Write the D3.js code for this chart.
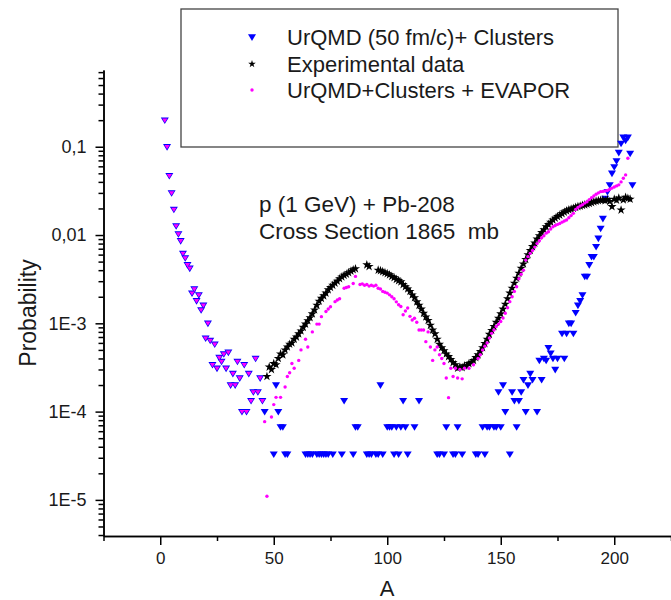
<!DOCTYPE html>
<html>
<head>
<meta charset="utf-8">
<script src="https://cdn.jsdelivr.net/npm/d3@7"></script>
<style>
  body { margin: 0; background: #fff; }
  svg { display: block; }
  text { font-family: Arial, "Liberation Sans", sans-serif; fill: #1a1a1a; }
</style>
</head>
<body>
<svg id="chart" width="671" height="600"></svg>
<script>
// UrQMD (50 fm/c) + Clusters  (blue triangles)
const urqmdA = [2,3,4,5,6,7,8,9,10,11,12,13,
  14,15,16,17,18,19,20,21,22,23,24,25,
  26,27,28,29,30,31,32,33,34,35,36,37,
  38,39,40,41,42,43,44,45,46,
  50,51,52,53,54,55,56,
  64,65,66,67,69,70,71,72,73,74,76,
  80,81,85,86,87,91,92,93,95,96,97,98,
  100,101,102,103,104,105,106,107,108,109,112,114,
  122,123,125,126,129,130,131,133,
  139,140,142,143,144,145,147,148,149,150,
  151,152,154,155,156,157,158,159,160,161,
  162,163,164,166,167,168,169,170,171,172,
  173,174,175,177,178,179,180,181,182,183,
  184,185,186,187,188,189,190,191,192,193,
  194,195,196,197,198,199,200,201,202,203,
  204,205,206,207,208];
const urqmdP = [0.2,0.1,0.047,0.030,0.0195,0.0127,0.0103,0.0086,0.0062,0.0055,0.0046,0.0042,
  0.0022,0.00245,0.0018,0.0021,0.00142,0.0016,0.00068,0.001,0.00064,0.00034,0.00058,0.00031,
  0.00041,0.00037,0.00045,0.00031,0.00047,0.0002,0.00027,0.0002,0.00037,0.00024,0.0001,0.00034,
  0.0001,0.00027,0.000133,0.000167,0.0004,0.000167,0.00024,0.000133,0.0001,
  3.3e-5,0.0002,0.0001,6.7e-5,6.7e-5,3.3e-5,3.3e-5,
  3.3e-5,3.3e-5,3.3e-5,3.3e-5,3.3e-5,3.3e-5,3.3e-5,3.3e-5,3.3e-5,3.3e-5,3.3e-5,
  3.3e-5,1.33e-4,3.3e-5,6.7e-5,6.7e-5,3.3e-5,3.3e-5,3.3e-5,3.3e-5,3.3e-5,2e-4,3.3e-5,
  6.7e-5,6.7e-5,6.7e-5,3.3e-5,6.7e-5,3.3e-5,6.7e-5,1.33e-4,6.7e-5,3.3e-5,6.7e-5,1.33e-4,
  3.3e-5,3.3e-5,3.3e-5,6.7e-5,3.3e-5,3.3e-5,6.7e-5,3.3e-5,
  3.3e-5,3.3e-5,6.7e-5,3.3e-5,6.7e-5,6.7e-5,6.7e-5,6.7e-5,1.67e-4,6.7e-5,
  2e-4,1e-4,3.3e-5,1.67e-4,1.33e-4,6.7e-5,1.33e-4,1.67e-4,2.3e-4,1e-4,
  2e-4,2.7e-4,2.3e-4,1e-4,3.8e-4,2.3e-4,4e-4,3.8e-4,5.3e-4,4.6e-4,
  4e-4,3e-4,4e-4,7.7e-4,4e-4,7.7e-4,1e-3,1e-3,7.7e-4,1.32e-3,
  1.6e-3,1.8e-3,2.1e-3,3.4e-3,3.4e-3,4.6e-3,5.7e-3,5.7e-3,7.4e-3,9.2e-3,
  0.0119,0.0154,0.026,0.031,0.037,0.05,0.059,0.069,0.086,0.109,
  0.128,0.118,0.128,0.084,0.037];

// Experimental data (black stars)
const expA = [47,48,49,50,51,52,53,54,55,56,57,58,59,60,61,62,63,64,65,66,
  67,68,69,70,71,72,73,74,75,76,77,78,79,80,81,82,83,84,85,86,
  91,92,96,97,98,99,100,101,102,103,104,105,106,107,108,109,110,
  111,112,113,114,115,116,117,118,119,120,121,122,123,124,125,126,127,128,129,130,
  131,132,133,134,135,136,137,138,139,140,141,142,143,144,145,146,147,148,149,150,
  151,152,153,154,155,156,157,158,159,160,161,162,163,164,165,166,167,168,169,170,
  171,172,173,174,175,176,177,178,179,180,181,182,183,184,185,186,187,188,189,190,
  191,192,193,194,195,196,197,198,199,200,201,202,203,204,205,206,207];
const expP = [2.5e-4,3.2e-4,3.0e-4,3.5e-4,3.4e-4,4.0e-4,4.5e-4,4.4e-4,5.0e-4,5.4e-4,
  5.8e-4,6.0e-4,6.6e-4,7.0e-4,7.6e-4,8.2e-4,9.0e-4,9.8e-4,1.07e-3,1.16e-3,
  1.28e-3,1.42e-3,1.6e-3,1.78e-3,1.92e-3,2.05e-3,2.2e-3,2.4e-3,2.55e-3,2.7e-3,
  2.85e-3,3.0e-3,3.2e-3,3.35e-3,3.5e-3,3.6e-3,3.75e-3,3.9e-3,4.05e-3,4.15e-3,
  4.6e-3,4.4e-3,4.0e-3,3.95e-3,3.85e-3,3.75e-3,3.65e-3,3.55e-3,3.4e-3,3.3e-3,
  3.15e-3,3.05e-3,2.95e-3,2.75e-3,2.6e-3,2.45e-3,2.3e-3,
  2.1e-3,1.95e-3,1.75e-3,1.6e-3,1.45e-3,1.3e-3,1.18e-3,1.08e-3,9.5e-4,8.4e-4,
  7.6e-4,6.6e-4,5.8e-4,5.3e-4,4.9e-4,4.5e-4,4.2e-4,3.9e-4,3.6e-4,3.4e-4,
  3.1e-4,3.2e-4,3.15e-4,3.3e-4,3.3e-4,3.5e-4,3.6e-4,3.8e-4,4.1e-4,4.4e-4,
  4.8e-4,5.3e-4,5.9e-4,6.6e-4,7.5e-4,8.3e-4,9.2e-4,1.03e-3,1.14e-3,1.28e-3,
  1.45e-3,1.65e-3,1.9e-3,2.2e-3,2.5e-3,2.85e-3,3.25e-3,3.7e-3,4.2e-3,4.7e-3,
  5.3e-3,6.0e-3,6.7e-3,7.4e-3,8.1e-3,9.0e-3,9.8e-3,0.0107,0.0115,0.0124,
  0.0132,0.0140,0.0148,0.0155,0.0162,0.0168,0.0175,0.0182,0.0188,0.0193,
  0.0197,0.0201,0.0206,0.0210,0.0213,0.0217,0.0220,0.0224,0.0228,0.0233,
  0.0238,0.0242,0.0245,0.0248,0.0250,0.0245,0.0252,0.0240,0.0210,0.0255,
  0.0248,0.0262,0.0192,0.0250,0.0268,0.0260,0.0255];

// UrQMD + Clusters + EVAPOR (magenta dots)
const evapA = [2,3,4,5,6,7,8,9,10,11,12,13,
  14,15,16,17,18,19,20,21,22,23,24,25,
  26,27,28,29,30,31,32,33,34,35,36,37,
  38,39,40,41,42,43,44,45,
  46,47,49,50,51,53,55,56,57,58,59,61,62,64,65,67,69,70,71,73,74,75,77,78,79,81,82,83,85,86,
  88,89,90,91,92,93,94,95,96,97,98,99,100,101,102,103,104,105,106,107,108,109,110,
  111,112,113,114,115,116,117,118,119,120,121,122,123,124,125,126,127,128,129,130,
  131,132,133,134,136,138,140,141,142,143,144,145,146,147,148,149,150,
  151,152,153,154,155,156,157,158,159,160,161,162,163,164,165,166,167,168,169,170,
  171,172,173,174,175,176,177,178,179,180,181,182,183,184,185,186,187,188,189,190,
  191,192,193,194,195,196,197,198,199,200,201,202,203,204,205,206];
const evapP = [0.2,0.1,0.047,0.030,0.0195,0.0127,0.0103,0.0086,0.0062,0.0055,0.0046,0.0042,
  0.0022,0.00245,0.0018,0.0021,0.00142,0.0016,0.00068,0.001,0.00064,0.00034,0.00058,0.00031,
  0.00041,0.00037,0.00045,0.00031,0.00047,0.0002,0.00027,0.0002,0.00037,0.00024,0.0001,0.00034,
  0.0001,0.00027,0.000133,0.000167,0.0004,0.000167,0.00024,0.000133,
  7.7e-5,1.1e-5,8.7e-5,1.2e-4,1.45e-4,1.45e-4,1.9e-4,2.5e-4,2.75e-4,3.5e-4,3.1e-4,3.8e-4,5.0e-4,
  6.6e-4,5.4e-4,8.0e-4,9.8e-4,9.8e-4,1.19e-3,1.36e-3,1.45e-3,1.54e-3,1.76e-3,1.84e-3,1.9e-3,
  2.5e-3,2.55e-3,2.6e-3,2.83e-3,3.4e-3,
  2.75e-3,2.8e-3,2.7e-3,2.75e-3,2.64e-3,2.7e-3,2.64e-3,2.7e-3,2.5e-3,2.45e-3,2.3e-3,2.25e-3,
  2.2e-3,2.1e-3,2.0e-3,1.9e-3,1.75e-3,1.62e-3,1.55e-3,1.25e-3,1.38e-3,1.49e-3,1.2e-3,
  1.09e-3,1.14e-3,1.03e-3,8.4e-4,8.4e-4,8.4e-4,6.2e-4,8.0e-4,5.4e-4,3.8e-4,
  5.0e-4,5.4e-4,4.4e-4,4.0e-4,3.5e-4,2.4e-4,1.44e-4,3.1e-4,2.5e-4,3.1e-4,
  2.4e-4,3.0e-4,2.35e-4,3.1e-4,3.1e-4,3.4e-4,4.0e-4,4.4e-4,5.0e-4,5.5e-4,6.0e-4,6.8e-4,
  7.7e-4,8.4e-4,9.2e-4,9.8e-4,1.05e-3,
  1.15e-3,1.3e-3,1.5e-3,1.76e-3,2.0e-3,2.3e-3,2.6e-3,3.2e-3,3.6e-3,4.0e-3,
  5.2e-3,5.7e-3,6.2e-3,6.7e-3,7.3e-3,8.0e-3,8.6e-3,9.3e-3,9.8e-3,0.0105,
  0.0109,0.0117,0.0124,0.0128,0.0132,0.0135,0.0140,0.0144,0.0148,0.0157,
  0.0166,0.0176,0.0195,0.0205,0.0213,0.0220,0.0230,0.0238,0.0252,0.0265,
  0.0277,0.0290,0.0300,0.0310,0.0312,0.0315,0.0320,0.0330,0.0340,0.0350,
  0.0360,0.0370,0.0400,0.0440,0.0480,0.0740];

const legendLabels = ["UrQMD (50 fm/c)+ Clusters", "Experimental data", "UrQMD+Clusters + EVAPOR"];
const noteLines = ["p (1 GeV) + Pb-208", "Cross Section 1865  mb"];
const xMajorTicks = [0, 50, 100, 150, 200];
const xMinorTicks = [-25, 25, 75, 125, 175, 225];
const yMajorTicks = [1e-5, 1e-4, 1e-3, 1e-2, 1e-1];
const yTickLabels = ["1E-5", "1E-4", "1E-3", "0,01", "0,1"];

const svg = d3.select("#chart");

const x = d3.scaleLinear().domain([-25, 225]).range([103.5, 671]);
const y = d3.scaleLog().domain([3.9e-6, 0.74]).range([536, 70]);

// minor ticks on the log axis: 2..9 in every decade
const yMinorTicks = [];
for (let e = -6; e <= 0; e++) {
  for (let k = 2; k <= 9; k++) {
    const v = k * Math.pow(10, e);
    if (v >= y.domain()[0] && v <= y.domain()[1]) yMinorTicks.push(v);
  }
}

function styleAxis(g) {
  g.selectAll("path, line").attr("stroke", "#000").attr("stroke-width", 1.5);
}

// X axis
svg.append("g")
  .attr("transform", "translate(0,536)")
  .call(d3.axisBottom(x).tickValues(xMinorTicks).tickSize(5).tickSizeOuter(0).tickFormat(""))
  .call(styleAxis);
svg.append("g")
  .attr("transform", "translate(0,536)")
  .call(d3.axisBottom(x).tickValues(xMajorTicks).tickSize(9).tickSizeOuter(0).tickPadding(7).tickFormat(d3.format("d")))
  .call(styleAxis)
  .selectAll("text").attr("font-size", 17).attr("fill", "#1a1a1a");

// Y axis
svg.append("g")
  .attr("transform", "translate(103.5,0)")
  .call(d3.axisLeft(y).tickValues(yMinorTicks).tickSize(5).tickSizeOuter(0).tickFormat(""))
  .call(styleAxis);
svg.append("g")
  .attr("transform", "translate(103.5,0)")
  .call(d3.axisLeft(y).tickValues(yMajorTicks).tickSize(8).tickSizeOuter(0).tickPadding(9)
    .tickFormat((d, i) => yTickLabels[i]))
  .call(styleAxis)
  .selectAll("text").attr("font-size", 18).attr("fill", "#1a1a1a");

// axis titles
svg.append("text")
  .attr("x", 387).attr("y", 596)
  .attr("text-anchor", "middle").attr("font-size", 22)
  .text("A");
svg.append("text")
  .attr("transform", "translate(36,313) rotate(-90)")
  .attr("text-anchor", "middle").attr("font-size", 23)
  .text("Probability");

// legend box
svg.append("rect")
  .attr("x", 181).attr("y", 9).attr("width", 437).attr("height", 138)
  .attr("fill", "#fff").attr("stroke", "#444").attr("stroke-width", 1.3);

const triDown = "M-4,-2.7L4,-2.7L0,3.9Z";
const triSmall = "M-2.6,-1.7L2.6,-1.7L0,2.5Z";
const star = d3.symbol(d3.symbolStar, 26)();

const legendY = [37, 64, 90];
const legend = svg.append("g");
legend.append("path").attr("d", triDown).attr("fill", "#0000ff")
  .attr("transform", `translate(252,${legendY[0]})`);
legend.append("path").attr("d", d3.symbol(d3.symbolStar, 18)()).attr("fill", "#000")
  .attr("transform", `translate(252,${legendY[1]})`);
legend.append("circle").attr("cx", 252).attr("cy", legendY[2]).attr("r", 1.7).attr("fill", "#ff00ff");
legend.selectAll("text").data(legendLabels).join("text")
  .attr("x", 287).attr("y", (d, i) => legendY[i] + 8)
  .attr("font-size", 22)
  .text(d => d);

// annotation
svg.selectAll("text.note").data(noteLines).join("text")
  .attr("class", "note")
  .attr("x", 259).attr("y", (d, i) => 212 + i * 27)
  .attr("font-size", 22.5)
  .style("white-space", "pre")
  .text(d => d);

// data
const urqmd = urqmdA.map((a, i) => ({ a, p: urqmdP[i] }));
const expt = expA.map((a, i) => ({ a, p: expP[i] }));
const evap = evapA.map((a, i) => ({ a, p: evapP[i] }));
const blueKey = new Set(urqmd.map(d => d.a + ":" + d.p));

svg.append("g").selectAll("path").data(urqmd).join("path")
  .attr("d", triDown)
  .attr("transform", d => `translate(${x(d.a)},${y(d.p)})`)
  .attr("fill", "#0000ff");

svg.append("g").selectAll("path").data(expt).join("path")
  .attr("d", star)
  .attr("transform", d => `translate(${x(d.a)},${y(d.p)})`)
  .attr("fill", "#000");

const evapG = svg.append("g");
// where the EVAPOR value sits on a UrQMD point it fills the triangle
evapG.selectAll("path").data(evap.filter(d => blueKey.has(d.a + ":" + d.p))).join("path")
  .attr("d", triSmall)
  .attr("transform", d => `translate(${x(d.a)},${y(d.p)})`)
  .attr("fill", "#ff00ff");
evapG.selectAll("circle").data(evap.filter(d => !blueKey.has(d.a + ":" + d.p))).join("circle")
  .attr("cx", d => x(d.a)).attr("cy", d => y(d.p)).attr("r", 1.7)
  .attr("fill", "#ff00ff");
</script>
</body>
</html>
